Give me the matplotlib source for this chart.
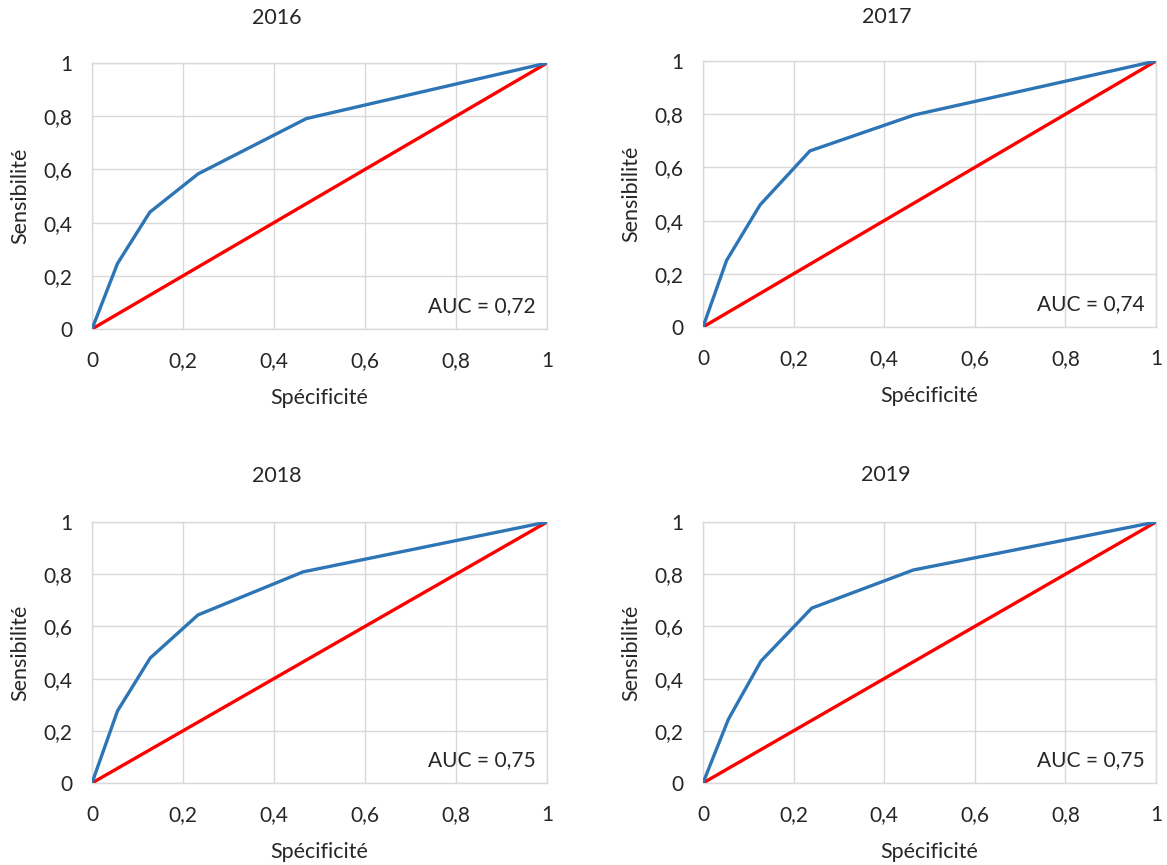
import matplotlib
matplotlib.use("Agg")
import matplotlib.pyplot as plt

plt.rcParams['font.family'] = ['Lato', 'DejaVu Sans']

years = ["2016", "2017", "2018", "2019"]
auc_labels = ["AUC = 0,72", "AUC = 0,74", "AUC = 0,75", "AUC = 0,75"]

spec_2016 = [0, 0.056, 0.127, 0.233, 0.471, 1]
sens_2016 = [0, 0.246, 0.439, 0.583, 0.791, 1]
spec_2017 = [0, 0.052, 0.126, 0.236, 0.466, 1]
sens_2017 = [0, 0.250, 0.459, 0.662, 0.797, 1]
spec_2018 = [0, 0.056, 0.128, 0.233, 0.464, 1]
sens_2018 = [0, 0.276, 0.479, 0.644, 0.809, 1]
spec_2019 = [0, 0.056, 0.128, 0.240, 0.464, 1]
sens_2019 = [0, 0.244, 0.467, 0.670, 0.816, 1]

diag = [0, 1]
ticks = [0, 0.2, 0.4, 0.6, 0.8, 1]
tick_labels = ["0", "0,2", "0,4", "0,6", "0,8", "1"]

series = [(spec_2016, sens_2016), (spec_2017, sens_2017),
          (spec_2018, sens_2018), (spec_2019, sens_2019)]

W, H = 1167, 865
fig = plt.figure(figsize=(W / 100, H / 100), dpi=100)

# (left, top, right, bottom) in pixels
boxes = [(92, 63, 547, 329), (703, 61, 1156, 327),
         (92, 522, 547, 783), (703, 522, 1156, 783)]
title_pos = [(277, 18), (887, 17), (277, 476), (886, 475)]

blue = "#2E75B6"
red = "#FF0000"
grid_c = "#D9D9D9"
txt_c = "#262626"

for i, (yr, (sx, sy)) in enumerate(zip(years, series)):
    l, t, r, b = boxes[i]
    ax = fig.add_axes([l / W, 1 - b / H, (r - l) / W, (b - t) / H])
    ax.plot(diag, diag, color=red, lw=2.4, solid_capstyle='butt', zorder=3)
    ax.plot(sx, sy, color=blue, lw=2.4, solid_joinstyle='round', zorder=4)
    ax.set_xlim(0, 1)
    ax.set_ylim(0, 1)
    ax.set_xticks(ticks)
    ax.set_yticks(ticks)
    ax.set_xticklabels(tick_labels, fontsize=15, color=txt_c)
    ax.set_yticklabels(tick_labels, fontsize=15, color=txt_c)
    ax.tick_params(axis='y', length=0, pad=14)
    ax.tick_params(axis='x', length=0, pad=16)
    ax.grid(True, color=grid_c, lw=1)
    ax.set_axisbelow(True)
    for sp in ax.spines.values():
        sp.set_color(grid_c)
        sp.set_linewidth(1)
    ax.text(0.975, 0.05, auc_labels[i], transform=ax.transAxes,
            ha='right', va='bottom', fontsize=15, color=txt_c)
    # axis titles positioned as in the reference
    fig.text((l + r) / 2 / W, 1 - (b + 69) / H, "Spécificité",
             ha='center', va='center', fontsize=15.5, color=txt_c)
    fig.text((l - 72) / W, 1 - (t + b) / 2 / H, "Sensibilité",
             ha='center', va='center', rotation=90, fontsize=15.5, color=txt_c)
    tx, ty = title_pos[i]
    fig.text(tx / W, 1 - ty / H, yr, ha='center', va='center',
             fontsize=15.5, color=txt_c)

fig.savefig("out.png", dpi=100, facecolor="white")
